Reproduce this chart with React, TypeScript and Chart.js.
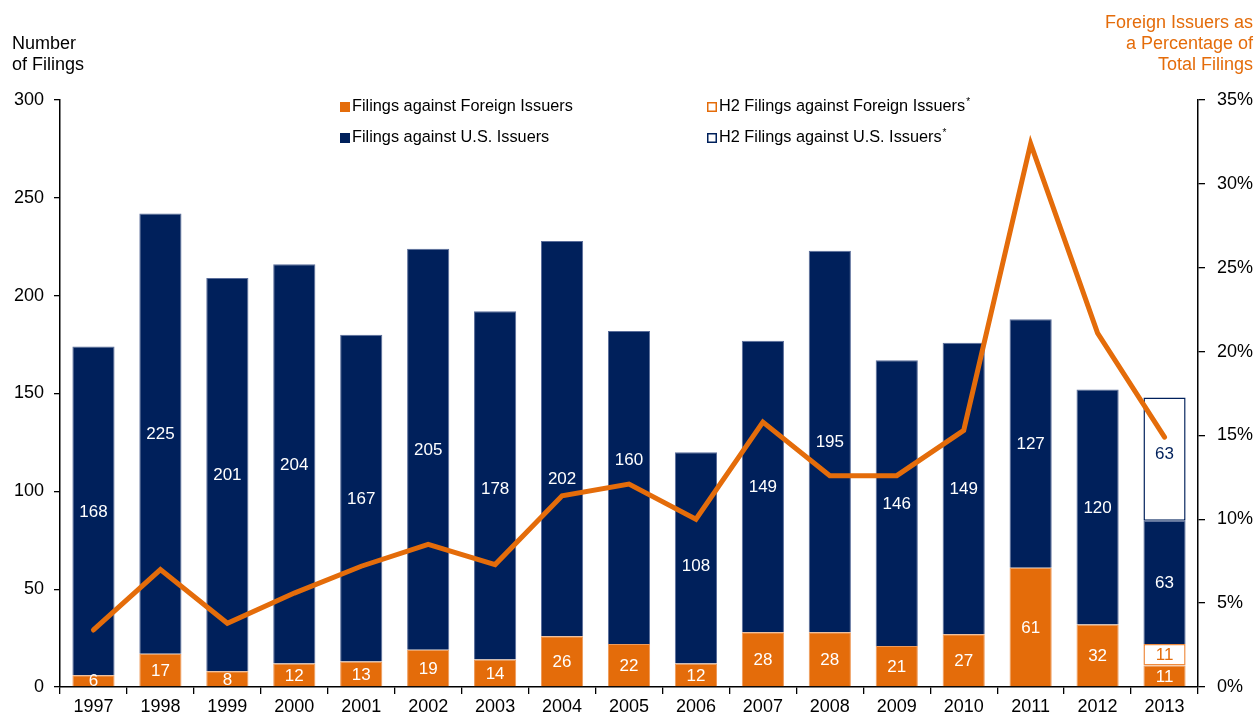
import React, { useEffect, useRef } from "react";
import { Chart, registerables } from "chart.js";

Chart.register(...registerables);

const years = ["1997","1998","1999","2000","2001","2002","2003","2004","2005","2006","2007","2008","2009","2010","2011","2012","2013"];
const foreign = [6,17,8,12,13,19,14,26,22,12,28,28,21,27,61,32,11];
const h2Foreign = [null,null,null,null,null,null,null,null,null,null,null,null,null,null,null,null,11];
const usIssuers = [168,225,201,204,167,205,178,202,160,108,149,195,146,149,127,120,63];
const h2Us = [null,null,null,null,null,null,null,null,null,null,null,null,null,null,null,null,63];
const foreignPct = [3.4,7.0,3.8,5.6,7.2,8.5,7.3,11.4,12.1,10.0,15.8,12.6,12.6,15.3,32.4,21.1,14.9];

const ORANGE = "#E46C0A";
const NAVY = "#00205B";
const FONT = "'Liberation Sans', Arial, sans-serif";

const overlayPlugin = {
  id: "overlay",
  afterDatasetsDraw(chart: any, _args: any, opts: any) {
    const ctx = chart.ctx;
    const nudge = (opts && opts.nudge) || {};
    ctx.save();
    ctx.font = `17px ${FONT}`;
    ctx.textAlign = "center";
    ctx.textBaseline = "middle";
    const colors = ["#ffffff", ORANGE, "#ffffff", NAVY];
    for (let d = 0; d < 4; d++) {
      const meta = chart.getDatasetMeta(d);
      const data = chart.data.datasets[d].data;
      meta.data.forEach((el: any, i: number) => {
        const v = data[i];
        if (v === null || v === undefined) return;
        const key = d + ":" + chart.data.labels[i];
        const cy = (el.y + el.base) / 2 + 1 + (nudge[key] || 0);
        ctx.fillStyle = colors[d];
        ctx.fillText(String(v), el.x, cy);
      });
    }
    ctx.restore();
  },
  afterDraw(chart: any) {
    const ctx = chart.ctx;
    ctx.save();
    ctx.font = `18px ${FONT}`;
    ctx.textBaseline = "middle";
    ctx.fillStyle = "#000";
    ctx.textAlign = "left";
    ctx.fillText("Number", 12, 44);
    ctx.fillText("of Filings", 12, 65);
    ctx.fillStyle = ORANGE;
    ctx.textAlign = "right";
    ctx.fillText("Foreign Issuers as", 1253, 23);
    ctx.fillText("a Percentage of", 1253, 44);
    ctx.fillText("Total Filings", 1253, 65);
    ctx.textAlign = "left";
    const items = [
      { x: 340, y: 107, fill: ORANGE, stroke: null, text: "Filings against Foreign Issuers", star: false },
      { x: 340, y: 138, fill: NAVY, stroke: null, text: "Filings against U.S. Issuers", star: false },
      { x: 707, y: 107, fill: null, stroke: ORANGE, text: "H2 Filings against Foreign Issuers", star: true },
      { x: 707, y: 138, fill: null, stroke: NAVY, text: "H2 Filings against U.S. Issuers", star: true },
    ];
    items.forEach((it) => {
      if (it.fill) {
        ctx.fillStyle = it.fill;
        ctx.fillRect(it.x, it.y - 5, 10, 10);
      } else {
        ctx.strokeStyle = it.stroke;
        ctx.lineWidth = 1.5;
        ctx.strokeRect(it.x + 0.75, it.y - 4.25, 8.5, 8.5);
      }
      ctx.fillStyle = "#000";
      ctx.font = `16.3px ${FONT}`;
      ctx.fillText(it.text, it.x + 12, it.y);
      if (it.star) {
        const w = ctx.measureText(it.text).width;
        ctx.font = `10px ${FONT}`;
        ctx.fillText("*", it.x + 13 + w, it.y - 5);
      }
    });
    ctx.restore();
  },
};

export default function App() {
  const ref = useRef<HTMLCanvasElement>(null);
  useEffect(() => {
    if (!ref.current) return;
    const barCommon = { stack: "s", order: 2, barPercentage: 0.63, categoryPercentage: 1 };
    const chart = new Chart(ref.current, {
      type: "bar",
      data: {
        labels: years,
        datasets: [
          { type: "bar", label: "Filings against Foreign Issuers", data: foreign, backgroundColor: ORANGE, borderColor: "#EE9A5A", borderWidth: { left: 1, right: 1, top: 1, bottom: 0 }, borderSkipped: false, ...barCommon } as any,
          { type: "bar", label: "H2 Filings against Foreign Issuers", data: h2Foreign, backgroundColor: "#ffffff", borderColor: "#EE8C40", borderWidth: 1.5, borderSkipped: false, ...barCommon } as any,
          { type: "bar", label: "Filings against U.S. Issuers", data: usIssuers, backgroundColor: NAVY, borderColor: "#5A6D9A", borderWidth: { left: 1, right: 1, top: 1, bottom: 0 }, borderSkipped: false, ...barCommon } as any,
          { type: "bar", label: "H2 Filings against U.S. Issuers", data: h2Us, backgroundColor: "#ffffff", borderColor: NAVY, borderWidth: 1.5, borderSkipped: false, ...barCommon } as any,
          { type: "line", label: "Foreign %", data: foreignPct, yAxisID: "y1", borderColor: ORANGE, borderWidth: 5, pointRadius: 0, tension: 0, order: 0, borderCapStyle: "round", borderJoinStyle: "miter" } as any,
        ],
      },
      options: {
        animation: false,
        responsive: false,
        maintainAspectRatio: false,
        layout: { padding: { top: 100, left: 0, right: 0, bottom: 0 } },
        plugins: {
          legend: { display: false },
          tooltip: { enabled: false },
          overlay: { nudge: { "2:2004": 40, "2:2005": -28, "2:2006": 7, "2:2003": 3, "3:2013": -6 } },
        },
        scales: {
          x: {
            stacked: true,
            offset: true,
            grid: { offset: true, drawOnChartArea: false, drawTicks: true, tickLength: 7, color: "#000", lineWidth: 1.3 },
            border: { display: true, color: "#000", width: 1.5 },
            ticks: { color: "#000", font: { size: 18, family: FONT }, padding: 2, maxRotation: 0 },
            afterFit: (s: any) => { s.height = 30; },
          },
          y: {
            stacked: true,
            position: "left",
            min: 0,
            max: 300,
            ticks: { stepSize: 50, color: "#000", font: { size: 18, family: FONT }, padding: 10 },
            grid: { drawOnChartArea: false, drawTicks: true, tickLength: 6, color: "#000", lineWidth: 1.3 },
            border: { display: true, color: "#000", width: 1.5 },
            afterFit: (s: any) => { s.width = 60; },
          },
          y1: {
            position: "right",
            min: 0,
            max: 35,
            ticks: { stepSize: 5, color: "#000", font: { size: 18, family: FONT }, padding: 12, callback: (v: any) => v + "%" },
            grid: { drawOnChartArea: false, drawTicks: true, tickLength: 7, color: "#000", lineWidth: 1.3 },
            border: { display: true, color: "#000", width: 1.5 },
            afterFit: (s: any) => { s.width = 58; },
          },
        },
      } as any,
      plugins: [overlayPlugin],
    });
    return () => chart.destroy();
  }, []);
  return (
    <div style={{ position: "fixed", left: 0, top: 0, width: 1256, height: 717, background: "#fff" }}>
      <canvas ref={ref} width={1256} height={717} style={{ width: 1256, height: 717 }} />
    </div>
  );
}
